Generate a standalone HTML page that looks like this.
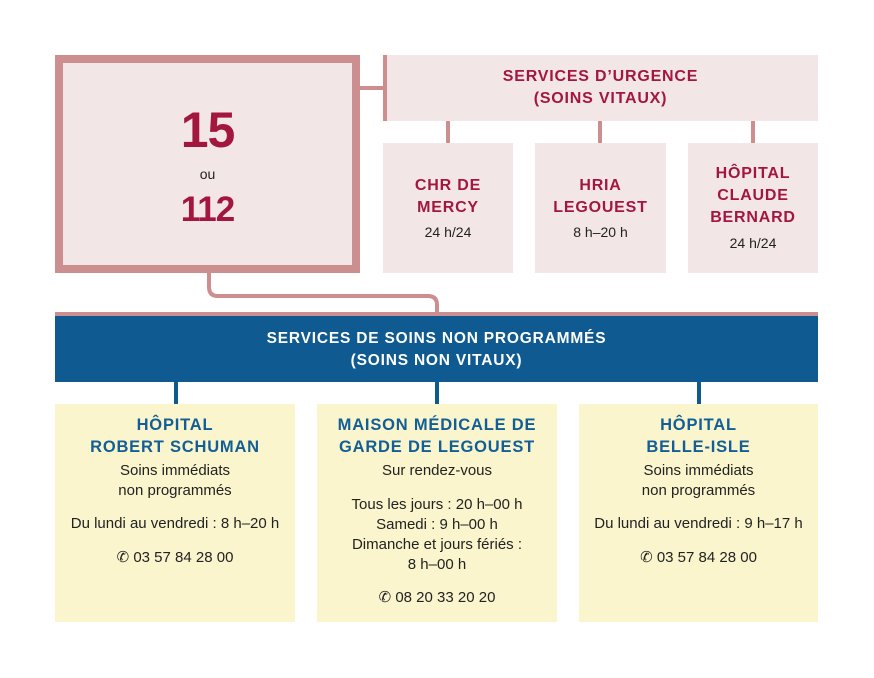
<!DOCTYPE html>
<html><head><meta charset="utf-8"><style>
body{margin:0;background:#fff;width:874px;height:678px;position:relative;overflow:hidden;font-family:"Liberation Sans",sans-serif}
.a{position:absolute}
.t{position:absolute;text-align:center;line-height:22px;white-space:nowrap}
.r{color:#a3173f;font-weight:bold;font-size:16px;letter-spacing:0.8px}
.b{color:#125e97;font-weight:bold;font-size:16.5px;letter-spacing:0.8px}
.w{color:#fff;font-weight:bold;font-size:15.5px;letter-spacing:0.8px}
.k{color:#222;font-size:15px}
.pk{background:#f3e6e6}
.ye{background:#faf5cd}
</style></head><body>
<!-- pink structure -->
<div class="a pk" style="left:55px;top:55px;width:289px;height:202px;border:8px solid #cc8e8e"></div>
<div class="a" style="left:360px;top:86px;width:25px;height:4px;background:#cc8e8e"></div>
<div class="a" style="left:383px;top:55px;width:4px;height:66px;background:#cc8e8e"></div>
<div class="a pk" style="left:387px;top:55px;width:431px;height:66px"></div>
<div class="a" style="left:446px;top:121px;width:4px;height:22px;background:#cc8e8e"></div>
<div class="a" style="left:598px;top:121px;width:4px;height:22px;background:#cc8e8e"></div>
<div class="a" style="left:751px;top:121px;width:4px;height:22px;background:#cc8e8e"></div>
<div class="a pk" style="left:383px;top:143px;width:130px;height:130px"></div>
<div class="a pk" style="left:535px;top:143px;width:131px;height:130px"></div>
<div class="a pk" style="left:688px;top:143px;width:130px;height:130px"></div>
<svg class="a" style="left:0;top:0" width="874" height="678"><path d="M209 273 V287 Q209 296 218 296 H428 Q437 296 437 305 V314" fill="none" stroke="#cc8e8e" stroke-width="4"/></svg>
<div class="a" style="left:55px;top:312px;width:763px;height:4px;background:#cc8e8e"></div>
<!-- blue -->
<div class="a" style="left:55px;top:316px;width:763px;height:66px;background:#0e5a91"></div>
<div class="a" style="left:174px;top:382px;width:4px;height:22px;background:#0e5a91"></div>
<div class="a" style="left:435px;top:382px;width:4px;height:22px;background:#0e5a91"></div>
<div class="a" style="left:697px;top:382px;width:4px;height:22px;background:#0e5a91"></div>
<div class="a ye" style="left:55px;top:404px;width:240px;height:218px"></div>
<div class="a ye" style="left:317px;top:404px;width:240px;height:218px"></div>
<div class="a ye" style="left:579px;top:404px;width:239px;height:218px"></div>

<!-- texts big box -->
<div class="t" style="left:55px;width:305px;top:104px;line-height:52px;font-size:50px;font-weight:bold;color:#a3173f;letter-spacing:-1px">15</div>
<div class="t k" style="left:55px;width:305px;top:163px;font-size:14px">ou</div>
<div class="t" style="left:55px;width:305px;top:190px;line-height:40px;font-size:35px;font-weight:bold;color:#a3173f;letter-spacing:-1px">112</div>

<div class="t r" style="left:383px;width:435px;top:66px">SERVICES D’URGENCE<br>(SOINS VITAUX)</div>
<div class="t r" style="left:383px;width:130px;top:175px">CHR DE<br>MERCY</div>
<div class="t k" style="left:383px;width:130px;top:221px;font-size:14px">24 h/24</div>
<div class="t r" style="left:535px;width:131px;top:175px">HRIA<br>LEGOUEST</div>
<div class="t k" style="left:535px;width:131px;top:221px;font-size:14px">8 h–20 h</div>
<div class="t r" style="left:688px;width:130px;top:163px">HÔPITAL<br>CLAUDE<br>BERNARD</div>
<div class="t k" style="left:688px;width:130px;top:232px;font-size:14px">24 h/24</div>

<div class="t w" style="left:55px;width:763px;top:328px">SERVICES DE SOINS NON PROGRAMMÉS<br>(SOINS NON VITAUX)</div>

<div class="t b" style="left:55px;width:240px;top:414px">HÔPITAL<br>ROBERT SCHUMAN</div>
<div class="t k" style="left:55px;width:240px;top:461px;line-height:20px">Soins immédiats<br>non programmés</div>
<div class="t k" style="left:55px;width:240px;top:513px">Du lundi au vendredi : 8 h–20 h</div>
<div class="t k" style="left:55px;width:240px;top:547px">✆ 03 57 84 28 00</div>

<div class="t b" style="left:317px;width:240px;top:414px">MAISON MÉDICALE DE<br>GARDE DE LEGOUEST</div>
<div class="t k" style="left:317px;width:240px;top:461px;line-height:20px">Sur rendez-vous</div>
<div class="t k" style="left:317px;width:240px;top:495px;line-height:20px">Tous les jours : 20 h–00 h<br>Samedi : 9 h–00 h<br>Dimanche et jours fériés :<br>8 h–00 h</div>
<div class="t k" style="left:317px;width:240px;top:587px">✆ 08 20 33 20 20</div>

<div class="t b" style="left:579px;width:239px;top:414px">HÔPITAL<br>BELLE-ISLE</div>
<div class="t k" style="left:579px;width:239px;top:461px;line-height:20px">Soins immédiats<br>non programmés</div>
<div class="t k" style="left:579px;width:239px;top:513px">Du lundi au vendredi : 9 h–17 h</div>
<div class="t k" style="left:579px;width:239px;top:547px">✆ 03 57 84 28 00</div>
</body></html>
